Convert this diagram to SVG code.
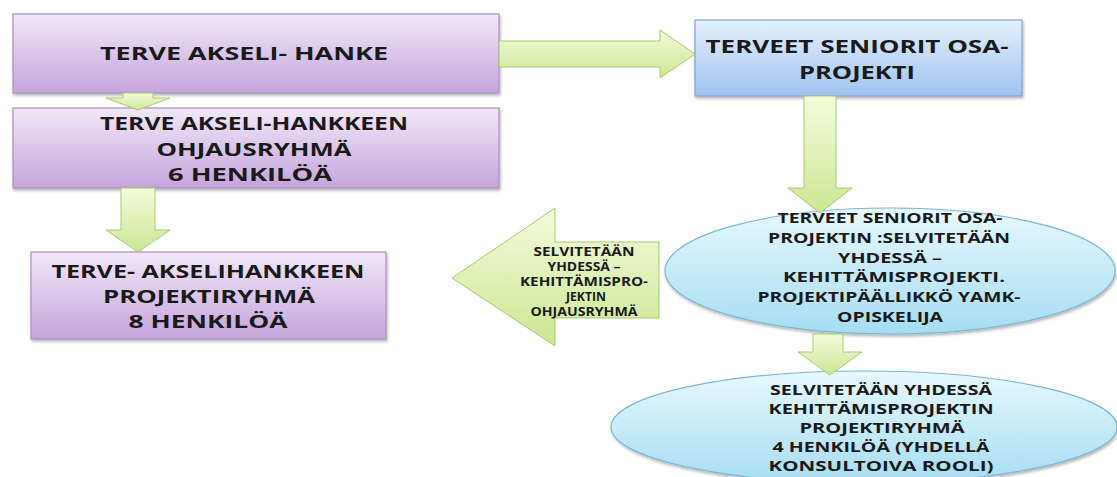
<svg xmlns="http://www.w3.org/2000/svg" width="1117" height="477" viewBox="0 0 1117 477">
<defs>
<linearGradient id="gPurple" x1="0" y1="0" x2="0" y2="1"><stop offset="0" stop-color="#f1e8f8"/><stop offset="1" stop-color="#c5a4dc"/></linearGradient>
<linearGradient id="gBlue" x1="0" y1="0" x2="0" y2="1"><stop offset="0" stop-color="#e4f0fd"/><stop offset="1" stop-color="#a0c3f0"/></linearGradient>
<linearGradient id="gCyan" x1="0" y1="0" x2="0" y2="1"><stop offset="0" stop-color="#e8f8fd"/><stop offset="1" stop-color="#a6ddf2"/></linearGradient>
<linearGradient id="gGreen" x1="0" y1="0" x2="0" y2="1"><stop offset="0" stop-color="#f4fbdc"/><stop offset="1" stop-color="#cbe793"/></linearGradient>
<filter id="sh" x="-10%" y="-10%" width="120%" height="130%"><feDropShadow dx="1" dy="2" stdDeviation="1.5" flood-color="#000" flood-opacity="0.3"/></filter>
</defs>
<style>
.t{font-family:"Open Sans","Liberation Sans",sans-serif;font-weight:700;fill:#1a1a1a;text-anchor:middle}
.big{font-size:18px}
.mid{font-size:15px}
.sm{font-size:12px}
.pbox{fill:url(#gPurple);stroke:#a88fc0;stroke-width:1.2;filter:url(#sh)}
.bbox{fill:url(#gBlue);stroke:#7fa3d0;stroke-width:1.2;filter:url(#sh)}
.ell{fill:url(#gCyan);stroke:#7bb8d4;stroke-width:1.2;filter:url(#sh)}
.arr{fill:url(#gGreen);stroke:#a9c96e;stroke-width:1}
</style>
<rect width="1117" height="477" fill="#fff"/>
<g id="node-hanke">
<rect class="pbox" x="13" y="14" width="486" height="79"/>
<text class="t big" x="244" y="60" textLength="288" lengthAdjust="spacingAndGlyphs">TERVE AKSELI- HANKE</text>
</g>
<g id="node-ohjausryhma">
<rect class="pbox" x="13" y="108" width="486" height="80"/>
<text class="t big" x="254" y="130" textLength="308" lengthAdjust="spacingAndGlyphs">TERVE AKSELI-HANKKEEN</text>
<text class="t big" x="254" y="156" textLength="195" lengthAdjust="spacingAndGlyphs">OHJAUSRYHMÄ</text>
<text class="t big" x="250" y="181" textLength="164" lengthAdjust="spacingAndGlyphs">6 HENKILÖÄ</text>
</g>
<g id="node-projektiryhma">
<rect class="pbox" x="31" y="252" width="355" height="87"/>
<text class="t big" x="208" y="278" textLength="313" lengthAdjust="spacingAndGlyphs">TERVE- AKSELIHANKKEEN</text>
<text class="t big" x="209" y="303" textLength="212" lengthAdjust="spacingAndGlyphs">PROJEKTIRYHMÄ</text>
<text class="t big" x="208" y="328" textLength="159" lengthAdjust="spacingAndGlyphs">8 HENKILÖÄ</text>
</g>
<g id="node-seniorit">
<rect class="bbox" x="695" y="20" width="327" height="76"/>
<text class="t big" x="857" y="53" textLength="303" lengthAdjust="spacingAndGlyphs">TERVEET SENIORIT OSA-</text>
<text class="t big" x="857" y="79" textLength="116" lengthAdjust="spacingAndGlyphs">PROJEKTI</text>
</g>
<g id="node-kehittamisprojekti">
<ellipse class="ell" cx="890" cy="271" rx="225" ry="63"/>
<text class="t mid" x="890" y="223" textLength="225" lengthAdjust="spacingAndGlyphs">TERVEET SENIORIT OSA-</text>
<text class="t mid" x="889" y="243" textLength="242" lengthAdjust="spacingAndGlyphs">PROJEKTIN :SELVITETÄÄN</text>
<text class="t mid" x="890" y="263" textLength="104" lengthAdjust="spacingAndGlyphs">YHDESSÄ –</text>
<text class="t mid" x="894" y="282" textLength="222" lengthAdjust="spacingAndGlyphs">KEHITTÄMISPROJEKTI.</text>
<text class="t mid" x="889" y="302" textLength="263" lengthAdjust="spacingAndGlyphs">PROJEKTIPÄÄLLIKKÖ YAMK-</text>
<text class="t mid" x="890" y="322" textLength="106" lengthAdjust="spacingAndGlyphs">OPISKELIJA</text>
</g>
<g id="node-kehittamisryhma">
<ellipse class="ell" cx="864" cy="427" rx="253" ry="56"/>
<text class="t mid" x="881" y="395" textLength="222" lengthAdjust="spacingAndGlyphs">SELVITETÄÄN YHDESSÄ</text>
<text class="t mid" x="881" y="414" textLength="225" lengthAdjust="spacingAndGlyphs">KEHITTÄMISPROJEKTIN</text>
<text class="t mid" x="882" y="433" textLength="165" lengthAdjust="spacingAndGlyphs">PROJEKTIRYHMÄ</text>
<text class="t mid" x="881" y="452" textLength="217" lengthAdjust="spacingAndGlyphs">4 HENKILÖÄ (YHDELLÄ</text>
<text class="t mid" x="881" y="471" textLength="225" lengthAdjust="spacingAndGlyphs">KONSULTOIVA ROOLI)</text>
</g>
<g id="connectors">
<polygon class="arr" points="499,41 660,41 660,30 695,54 660,78 660,67 499,67"/>
<polygon class="arr" points="123,93 153,93 153,98 170,98 138,110 106,98 123,98"/>
<polygon class="arr" points="121,188 155,188 155,230 170,230 138,252 106,230 121,230"/>
<polygon class="arr" points="804,96 836,96 836,188 852,188 820,213 788,188 804,188"/>
<polygon class="arr" points="813,334 843,334 843,352 862,352 830,375 798,352 813,352"/>
<g id="connector-ohjausryhma">
<polygon class="arr" points="659,242 659,318 555,318 555,346 452,278 555,208 555,242"/>
<text class="t sm" x="584" y="256" textLength="101" lengthAdjust="spacingAndGlyphs">SELVITETÄÄN</text>
<text class="t sm" x="584" y="271" textLength="73" lengthAdjust="spacingAndGlyphs">YHDESSÄ –</text>
<text class="t sm" x="584" y="286" textLength="128" lengthAdjust="spacingAndGlyphs">KEHITTÄMISPRO-</text>
<text class="t sm" x="586" y="301" textLength="40" lengthAdjust="spacingAndGlyphs">JEKTIN</text>
<text class="t sm" x="584" y="316" textLength="107" lengthAdjust="spacingAndGlyphs">OHJAUSRYHMÄ</text>
</g>
</g>
</svg>
